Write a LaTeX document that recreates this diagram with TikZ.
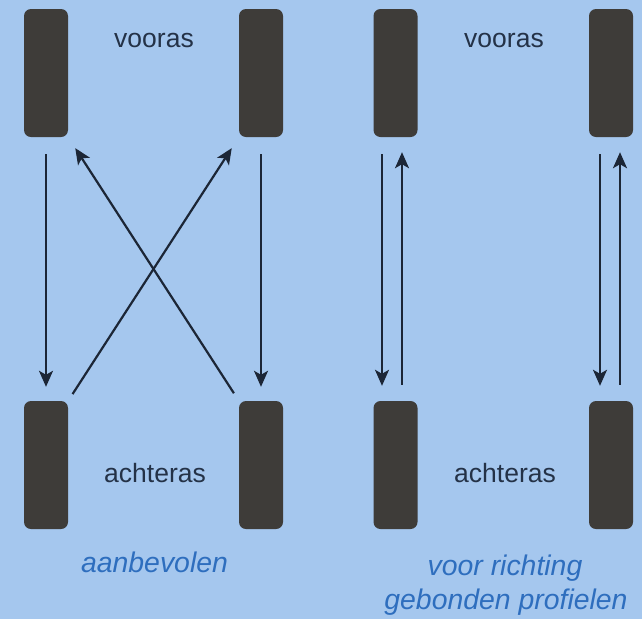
\documentclass[tikz,border=0pt]{standalone}
\usepackage{fontspec}
\setmainfont{Liberation Sans}
\usetikzlibrary{arrows.meta}
\definecolor{bgblue}{RGB}{165,199,238}
\definecolor{tyregrey}{RGB}{62,60,57}
\definecolor{axletext}{RGB}{36,50,71}
\definecolor{notetext}{RGB}{46,110,190}
\definecolor{arrowline}{RGB}{28,38,54}
\begin{document}
\begin{tikzpicture}[x=1pt,y=-1pt,
  tyre/.style={rectangle, rounded corners=7pt, fill=tyregrey,
    minimum width=44pt, minimum height=128pt, inner sep=0pt},
  axle/.style={text=axletext, font=\fontsize{26.5}{30}\selectfont,
    anchor=base, inner sep=0pt},
  note/.style={text=notetext, font=\fontsize{28.4}{34}\selectfont\itshape,
    anchor=base, inner sep=0pt},
  move/.style={draw=arrowline, line width=2.2pt,
    -{Stealth[length=16pt,width=14pt,inset=4pt]}}]

% background
\fill[bgblue] (0,0) rectangle (642,619);
\useasboundingbox (0,0) rectangle (642,619);

% tyres: left scheme
\node[tyre] (fl1) at (46,73) {};
\node[tyre] (fr1) at (261,73) {};
\node[tyre] (rl1) at (46,465) {};
\node[tyre] (rr1) at (261,465) {};
% tyres: right scheme
\node[tyre] (fl2) at (395.5,73) {};
\node[tyre] (fr2) at (611,73) {};
\node[tyre] (rl2) at (395.5,465) {};
\node[tyre] (rr2) at (611,465) {};

% axle labels
\node[axle] (front1) at (154,47) {vooras};
\node[axle] (front2) at (504,47) {vooras};
\node[axle] (rear1) at (155,482) {achteras};
\node[axle] (rear2) at (505,482) {achteras};

% captions
\node[note] (rec) at (154.5,572) {aanbevolen};
\node[note] (dir1) at (505,575) {voor richting};
\node[note] (dir2) at (506,609) {gebonden profielen};

% cross rotation
\draw[move, shorten <=17pt, shorten >=14pt] (fl1.south) -- (rl1.north);
\draw[move, shorten <=17pt, shorten >=14pt] (fr1.south) -- (rr1.north);
\draw[move, shorten <=8pt, shorten >=13pt] (rl1.north east) -- (fr1.south west);
\draw[move, shorten <=9pt, shorten >=13pt] (rr1.north west) -- (fl1.south east);

% same-side rotation
\draw[move, shorten <=17pt, shorten >=15pt] ([xshift=-13.5pt]fl2.south) -- ([xshift=-13.5pt]rl2.north);
\draw[move, shorten <=16pt, shorten >=15pt] ([xshift=6.5pt]rl2.north) -- ([xshift=6.5pt]fl2.south);
\draw[move, shorten <=17pt, shorten >=15pt] ([xshift=-11pt]fr2.south) -- ([xshift=-11pt]rr2.north);
\draw[move, shorten <=16pt, shorten >=15pt] ([xshift=9pt]rr2.north) -- ([xshift=9pt]fr2.south);
\end{tikzpicture}
\end{document}
